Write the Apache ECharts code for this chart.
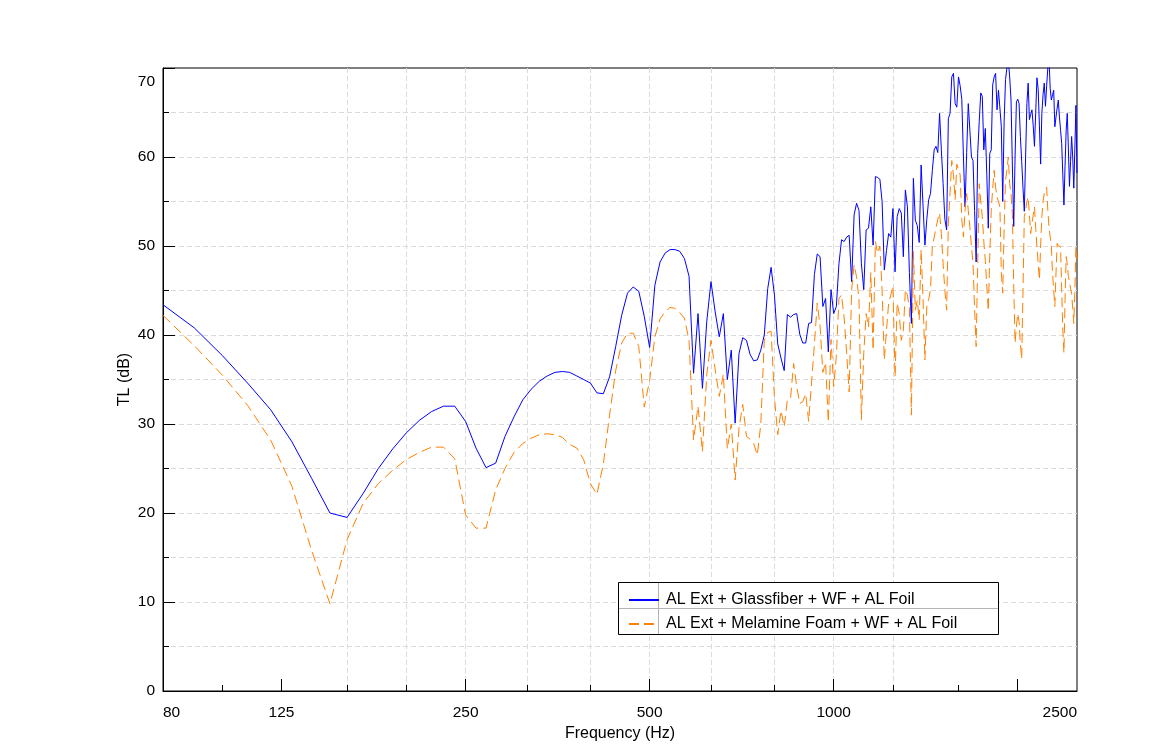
<!DOCTYPE html>
<html>
<head>
<meta charset="utf-8">
<script src="https://cdn.jsdelivr.net/npm/echarts@6/dist/echarts.min.js"></script>
<style>html,body{margin:0;padding:0;background:#fff}#c{width:1171px;height:754px}</style>
</head>
<body>
<div id="c"></div>
<script>
// Frequencies (Hz), 10 Hz steps
const FREQ = [80, 90,
 100,110,120,130,140,150,160,170,180,190,
 200,210,220,230,240,250,260,270,280,290,
 300,310,320,330,340,350,360,370,380,390,
 400,410,420,430,440,450,460,470,480,490,
 500,510,520,530,540,550,560,570,580,590,
 600,610,620,630,640,650,660,670,680,690,
 700,710,720,730,740,750,760,770,780,790,
 800,810,820,830,840,850,860,870,880,890,
 900,910,920,930,940,950,960,970,980,990,
 1000,1010,1020,1030,1040,1050,1060,1070,1080,1090,
 1100,1110,1120,1130,1140,1150,1160,1170,1180,1190,
 1200,1210,1220,1230,1240,1250,1260,1270,1280,1290,
 1300,1310,1320,1330,1340,1350,1360,1370,1380,1390,
 1400,1410,1420,1430,1440,1450,1460,1470,1480,1490,
 1500,1510,1520,1530,1540,1550,1560,1570,1580,1590,
 1600,1610,1620,1630,1640,1650,1660,1670,1680,1690,
 1700,1710,1720,1730,1740,1750,1760,1770,1780,1790,
 1800,1810,1820,1830,1840,1850,1860,1870,1880,1890,
 1900,1910,1920,1930,1940,1950,1960,1970,1980,1990,
 2000,2010,2020,2030,2040,2050,2060,2070,2080,2090,
 2100,2110,2120,2130,2140,2150,2160,2170,2180,2190,
 2200,2210,2220,2230,2240,2250,2260,2270,2280,2290,
 2300,2310,2320,2330,2340,2350,2360,2370,2380,2390,
 2400,2410,2420,2430,2440,2450,2460,2470,2480,2490,
 2500];

// TL (dB) — AL Ext + Glassfiber + WF + AL Foil
const TL_GLASSFIBER = [43.4, 40.8,
 37.7,34.6,31.6,28.0,23.9,20.0,19.5,22.2,25.0,27.2,
 29.0,30.4,31.4,32.0,32.0,30.3,27.3,25.1,25.6,28.6,
 30.8,32.7,33.9,34.8,35.4,35.8,35.9,35.8,35.4,35.0,
 34.6,33.5,33.4,35.3,38.7,42.2,44.7,45.4,44.9,42.1,
 38.6,45.6,48.2,49.2,49.6,49.6,49.4,48.6,46.6,35.7,
 42.4,34.0,41.5,46.0,42.6,39.8,42.4,35.0,38.3,30.1,
 37.9,39.7,39.4,37.8,37.1,37.2,38.3,40.0,45.2,47.6,
 44.5,39.0,37.4,36.0,42.3,42.0,42.3,42.4,40.1,39.1,
 39.1,41.3,41.4,46.8,49.1,48.8,43.2,44.1,38.1,45.1,
 42.4,43.2,48.0,50.7,50.5,51.0,51.2,46.0,53.5,54.8,
 54.0,48.0,45.1,51.8,52.0,54.4,50.1,57.8,57.7,57.5,
 55.0,47.3,49.5,51.4,51.0,54.2,47.1,53.3,54.2,53.7,
 48.8,56.3,54.4,47.0,41.3,57.6,52.9,52.3,50.4,59.1,
 54.5,50.1,53.0,55.2,55.9,58.5,60.8,61.2,60.5,64.9,
 60.8,57.0,53.0,51.8,64.3,64.9,69.0,69.4,66.0,65.6,
 69.0,68.0,66.5,60.0,54.4,60.5,66.0,63.0,60.0,59.6,
 54.0,48.2,60.4,64.0,67.2,66.8,60.8,63.2,58.0,52.0,
 60.4,60.8,68.1,69.0,69.4,65.3,67.5,65.5,63.4,55.0,
 64.0,68.7,70.0,71.0,69.0,66.4,59.0,52.2,60.0,66.2,
 66.5,66.0,62.3,59.5,56.5,53.9,60.0,66.0,68.3,64.2,
 64.8,65.3,63.5,61.2,65.0,68.9,67.6,63.5,59.2,64.9,
 67.0,68.3,65.7,68.0,70.0,71.0,67.7,66.4,67.0,67.5,
 63.4,64.5,65.5,66.4,64.5,63.0,61.5,58.0,54.6,59.0,
 63.0,64.9,61.0,56.7,59.5,62.3,60.0,56.5,61.0,65.8,
 58.2];

// TL (dB) — AL Ext + Melamine Foam + WF + AL Foil
const TL_MELAMINE = [42.2, 38.8,
 35.5,32.1,28.2,23.0,15.8,9.8,17.0,21.1,23.3,24.8,
 26.0,26.8,27.4,27.4,26.1,19.8,18.3,18.3,22.6,25.0,
 26.8,27.8,28.4,28.8,28.9,28.8,28.5,27.7,27.3,26.0,
 23.3,22.1,25.5,31.0,36.0,39.1,40.2,40.2,38.7,31.9,
 34.9,39.8,41.8,42.6,43.1,43.0,42.5,41.9,39.4,28.2,
 32.0,26.9,35.5,39.4,36.1,33.1,35.6,27.2,30.0,23.7,
 29.5,32.2,28.6,28.3,27.8,26.5,30.0,39.4,40.3,40.4,
 33.0,28.8,31.5,29.7,32.7,32.9,36.8,34.2,32.3,32.5,
 33.4,30.3,34.6,39.0,43.6,41.0,35.8,36.9,30.2,39.5,
 34.2,37.6,44.1,44.5,42.0,38.0,33.6,45.1,47.9,46.5,
 44.0,30.5,38.0,42.4,40.9,47.0,38.3,50.5,49.2,50.0,
 45.0,37.2,40.5,43.6,44.5,45.5,35.3,43.6,42.4,39.4,
 40.5,45.1,44.5,43.0,31.0,49.4,42.8,43.9,41.7,49.6,
 44.0,37.2,43.2,44.0,45.1,50.0,51.0,52.0,53.0,53.7,
 51.4,48.0,45.0,42.8,52.5,56.0,59.6,58.0,55.2,59.2,
 59.2,58.0,53.0,51.0,54.0,55.9,54.0,52.1,50.0,48.0,
 43.0,38.7,48.0,57.0,55.0,53.3,50.5,48.4,45.5,42.7,
 49.0,54.0,56.5,58.5,56.6,55.5,55.0,54.4,47.0,44.7,
 52.0,57.4,58.5,60.0,57.0,55.9,53.5,45.5,39.1,41.0,
 42.4,41.5,39.0,37.3,45.0,53.3,54.0,55.0,55.5,53.5,
 51.4,52.5,53.5,54.4,52.0,49.9,48.0,46.2,50.0,53.3,
 55.0,55.9,56.3,56.6,54.0,52.1,51.0,49.9,47.0,45.0,
 43.2,47.0,50.3,50.0,50.2,49.9,45.0,40.5,38.0,44.0,
 48.8,48.0,46.6,46.0,45.2,44.7,43.0,41.3,45.0,49.9,
 48.4];

const SERIES_NAMES = ['AL Ext + Glassfiber + WF + AL Foil', 'AL Ext + Melamine Foam + WF + AL Foil'];
const X_MIN = 80, X_MAX = 2500;
const X_LABELS = [80, 125, 250, 500, 1000, 2500];
const X_MAJOR_TICKS = [125, 250, 500, 1000, 2000];
const X_MINOR_TICKS = [100, 160, 200, 315, 400, 630, 800, 1250, 1600];
const Y_MIN = 0, Y_MAX = 70, Y_STEP = 10;
const X_NAME = 'Frequency (Hz)';
const Y_NAME = 'TL (dB)';

const FONT = '"Liberation Sans", Arial, sans-serif';
const GRID_LINE = { show: true, lineStyle: { color: '#dadada', width: 1, type: [5, 3] } };
const toLog = v => Math.log2(v);

const chart = echarts.init(document.getElementById('c'), null, { renderer: 'canvas' });

const helperAxisBase = {
  type: 'value', position: 'bottom', gridIndex: 0,
  min: toLog(X_MIN), max: toLog(X_MAX),
  axisPointer: { show: false }
};

chart.setOption({
  animation: false,
  backgroundColor: '#fff',
  textStyle: { fontFamily: FONT },
  grid: { left: 163, right: 94, top: 68, bottom: 63, show: true, borderColor: '#000', borderWidth: 1, backgroundColor: 'transparent' },
  xAxis: [
    { // data axis (log scale)
      type: 'log', logBase: 10, min: X_MIN, max: X_MAX, position: 'bottom',
      axisLine: { show: false }, axisTick: { show: false }, axisLabel: { show: false },
      splitLine: { show: false }, minorTick: { show: false }, minorSplitLine: { show: false }
    },
    Object.assign({}, helperAxisBase, {
      name: X_NAME, nameLocation: 'middle', nameGap: 34,
      nameTextStyle: { fontSize: 16, color: '#000', fontFamily: FONT },
      axisLine: { show: true, lineStyle: { color: '#000', width: 1 } },
      axisTick: { show: true, inside: true, length: 12, lineStyle: { color: '#000' }, customValues: X_MAJOR_TICKS.map(toLog) },
      axisLabel: {
        show: true, color: '#000', fontSize: 15.5, fontFamily: FONT, margin: 14,
        customValues: X_LABELS.map(toLog),
        formatter: v => String(Math.round(Math.pow(2, v))),
        alignMinLabel: 'left', alignMaxLabel: 'right'
      },
      splitLine: Object.assign({ showMinLine: false, showMaxLine: false }, GRID_LINE)
    }),
    Object.assign({}, helperAxisBase, {
      axisLine: { show: false },
      axisTick: { show: true, inside: true, length: 6, lineStyle: { color: '#000' }, customValues: X_MINOR_TICKS.map(toLog) },
      axisLabel: { show: false },
      splitLine: Object.assign({ showMinLine: false, showMaxLine: false }, GRID_LINE)
    })
  ],
  yAxis: [{
    type: 'value', min: Y_MIN, max: Y_MAX, interval: Y_STEP,
    name: Y_NAME, nameLocation: 'middle', nameGap: 30, nameMoveOverlap: false,
    nameTextStyle: { fontSize: 16, color: '#000', fontFamily: FONT },
    axisLine: { show: true, lineStyle: { color: '#000', width: 1 } },
    axisTick: { show: true, inside: true, length: 12, lineStyle: { color: '#000' } },
    minorTick: { show: true, splitNumber: 2, length: 6, lineStyle: { color: '#000' } },
    axisLabel: { color: '#000', fontSize: 15.5, fontFamily: FONT, margin: 8, lineHeight: 28, verticalAlignMaxLabel: 'top' },
    splitLine: Object.assign({ showMinLine: false, showMaxLine: false }, GRID_LINE),
    minorSplitLine: GRID_LINE
  }],
  legend: {
    orient: 'vertical', left: 623, top: 587,
    itemWidth: 30, itemHeight: 14, itemGap: 8,
    selectedMode: false,
    itemStyle: { opacity: 0 },
    textStyle: { fontSize: 16, color: '#000', fontFamily: FONT, padding: [0, 0, 0, 2] },
    data: SERIES_NAMES,
    z: 10
  },
  graphic: [
    { type: 'rect', z: 5, shape: { x: 618.5, y: 582.5, width: 380, height: 52 }, style: { fill: '#fff', stroke: '#000', lineWidth: 1 } },
    { type: 'line', z: 6, shape: { x1: 658.5, y1: 583, x2: 658.5, y2: 634 }, style: { stroke: '#b4b4b4', lineWidth: 1 } },
    { type: 'line', z: 6, shape: { x1: 619, y1: 608.5, x2: 998, y2: 608.5 }, style: { stroke: '#b4b4b4', lineWidth: 1 } }
  ],
  series: [
    {
      name: SERIES_NAMES[0], type: 'line', xAxisIndex: 0, yAxisIndex: 0,
      data: FREQ.map((f, i) => [f, TL_GLASSFIBER[i]]),
      showSymbol: false, symbol: 'none', clip: true,
      itemStyle: { color: '#0000ff' },
      lineStyle: { color: '#0000ff', width: 1, type: 'solid' }
    },
    {
      name: SERIES_NAMES[1], type: 'line', xAxisIndex: 0, yAxisIndex: 0,
      data: FREQ.map((f, i) => [f, TL_MELAMINE[i]]),
      showSymbol: false, symbol: 'none', clip: true,
      itemStyle: { color: '#ff8000' },
      lineStyle: { color: '#ff8000', width: 1, type: [10, 5] }
    }
  ]
});
</script>
</body>
</html>
